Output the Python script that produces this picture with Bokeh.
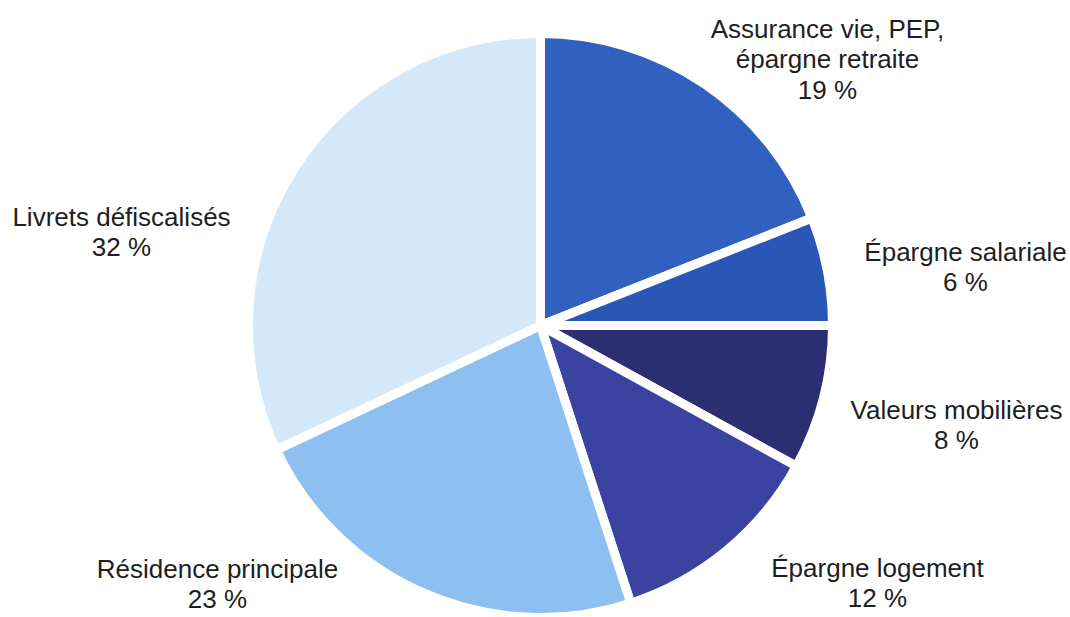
import math
from bokeh.plotting import figure
from bokeh.models import Range1d, ColumnDataSource
from bokeh.core.properties import value
from bokeh.embed import file_html
from bokeh.resources import INLINE

# ---- data ----
categories = ["Assurance vie, PEP,\népargne retraite", "Épargne salariale", "Valeurs mobilières",
              "Épargne logement", "Résidence principale", "Livrets défiscalisés"]
shares = [19, 6, 8, 12, 23, 32]

# ---- styles / layout ----
colors = ["#3060c0", "#2a56b7", "#2b2e70", "#3a439f", "#8ebff1", "#d3e9fa"]
# screen px: centre x and vertical middle of the first line of each label
label_pos = [(827, 28), (965, 251), (956, 409), (877, 567), (217, 568), (121, 216)]
line_gap = 30.5

W, H = 1070, 617
def sy(y):  # screen y -> data y
    return H - y

p = figure(width=W, height=H, output_backend="svg", toolbar_location=None,
           x_range=Range1d(0, W), y_range=Range1d(0, H),
           min_border=0, outline_line_color=None)
p.axis.visible = False
p.grid.visible = False
p.background_fill_color = "white"

cx, cy, r = 540, sy(325), 292
total = sum(shares)
starts, ends = [], []
acc = 0.0
for s in shares:
    a0 = math.pi / 2 - 2 * math.pi * acc / total
    acc += s
    a1 = math.pi / 2 - 2 * math.pi * acc / total
    starts.append(a0)
    ends.append(a1)

src = ColumnDataSource(dict(x=[cx] * len(shares), y=[cy] * len(shares),
                            start=starts, end=ends, color=colors))
p.wedge(x="x", y="y", radius=r, start_angle="start", end_angle="end", direction="clock",
        fill_color="color", line_color="white", line_width=9, source=src)

tx, ty, tt = [], [], []
for cat, s, (lx, ly) in zip(categories, shares, label_pos):
    lines = cat.split("\n") + [f"{s} %"]
    for i, ln in enumerate(lines):
        tx.append(lx)
        ty.append(sy(ly + i * line_gap))
        tt.append(ln)
p.text(x=tx, y=ty, text=tt, text_align="center", text_baseline="middle",
       text_font=value("Liberation Sans"), text_font_size="26px", text_color="#1e1e1e")

open("out.html", "w").write(file_html(p, INLINE))
